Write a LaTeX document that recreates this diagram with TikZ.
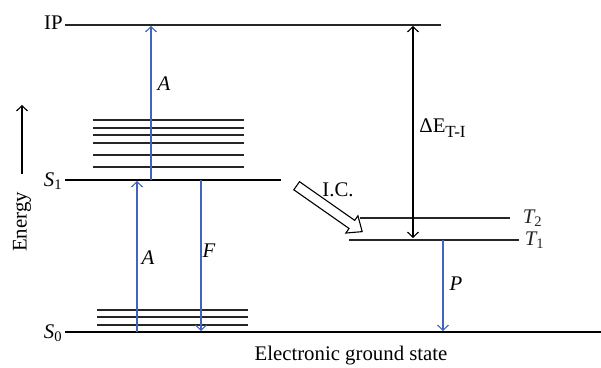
\documentclass[tikz,border=0pt]{standalone}
\usepackage{amsmath}
\usepackage{fontspec}
\setmainfont{Liberation Serif}
\usepackage{xcolor}
\usepackage{tikz}
\usetikzlibrary{arrows.meta,positioning,shapes.arrows}
\definecolor{transblue}{RGB}{66,100,190}
\tikzset{
  lvl/.style={line width=0.75pt,black!85},
  trans/.style={-{Straight Barb[length=2.6pt,width=5.5pt]},line width=0.55pt,transblue},
  plain/.style={-{Straight Barb[length=2.6pt,width=5.5pt]},line width=0.55pt,black},
  every node/.style={font=\fontsize{10.4}{12}\selectfont,inner sep=1pt}
}
\newcommand{\lvlname}[2]{$\textit{#1}_{\text{#2}}$}

\begin{document}
\begin{tikzpicture}[x=0.5pt,y=-0.5pt]
\useasboundingbox (0,0) rectangle (601,368);
% main levels
\node[anchor=east] (ip) at (65,23) {IP};
\node[anchor=east] (s1) at (65,181) {\lvlname{S}{1}};
\node[anchor=east] (s0) at (65,333) {\lvlname{S}{0}};
\coordinate (ipR) at (441,25); \coordinate (s1R) at (281,180); \coordinate (s0R) at (601,332);
\draw[lvl] (ip.east |- ipR) -- (ipR);
\draw[lvl,black] (s1.east |- s1R) -- (s1R);
\draw[lvl,black] (s0.east |- s0R) -- (s0R);
% vibrational levels
\foreach \y in {120,128,135,143,155,167} \draw[lvl] (93,\y) -- (244,\y);
\foreach \y in {310,317,325} \draw[lvl] (97,\y) -- (248,\y);
% triplet levels
\coordinate (t2L) at (360,218); \coordinate (t2R) at (510,218);
\coordinate (t1L) at (349,240); \coordinate (t1R) at (519,240);
\draw[lvl] (t2L) -- (t2R) node[right=5pt] (t2) {\lvlname{T}{2}};
\draw[lvl] (t1L) -- (t1R) node[right=1.5pt] (t1) {\lvlname{T}{1}};
% energy axis
\coordinate (enB) at (22,174); \coordinate (enT) at (22,105);
\draw[plain] (enB) -- (enT);
\node[rotate=90] (energy) at (22,222) {Energy};
% transitions
\coordinate (a1B) at (151,180); \coordinate (a1T) at (151,26);
\draw[trans] (a1B) -- (a1T);
\node (lblA1) at (164,84) {\textit{A}};
\coordinate (a2B) at (137,332); \coordinate (a2T) at (137,181);
\draw[trans] (a2B) -- (a2T);
\node (lblA2) at (148,258) {\textit{A}};
\coordinate (fT) at (201,180); \coordinate (fB) at (201,331);
\draw[trans] (fT) -- (fB);
\node (lblF) at (209,251) {\textit{F}};
\coordinate (pT) at (443,240); \coordinate (pB) at (443,331);
\draw[trans] (pT) -- (pB);
\node (lblP) at (456,284) {\textit{P}};
% ionisation gap
\coordinate (deT) at (413,26); \coordinate (deB) at (413,238);
\draw[plain,{Straight Barb[length=2.6pt,width=5.5pt]}-{Straight Barb[length=2.6pt,width=5.5pt]}] (deT) -- (deB);
\node[anchor=west] (lblDE) at (417,128) {ΔE\raisebox{-0.45ex}{\fontsize{8.5}{10}\selectfont T-I}};
% internal conversion
\node[single arrow,draw,line width=0.55pt,rotate=-35,minimum height=40pt,minimum width=10pt,
  inner sep=2.2pt,single arrow head extend=2.8pt,single arrow tip angle=80] (ic) at (327,207) {};
\node (lblIC) at (338,190) {I.C.};
\node (ground) at (351,356) {Electronic ground state};
\end{tikzpicture}
\end{document}
